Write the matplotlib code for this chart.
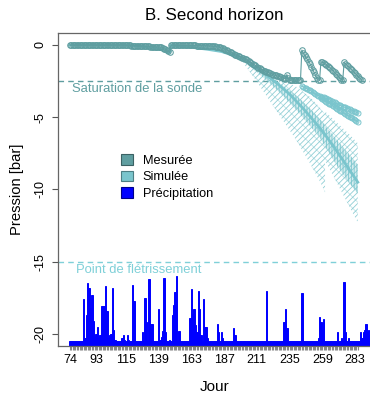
import numpy as np
import matplotlib
matplotlib.use('Agg')
import matplotlib.pyplot as plt
from matplotlib.patches import Patch

plt.rcParams['font.family'] = ['Liberation Sans', 'DejaVu Sans']
plt.rcParams['hatch.linewidth'] = 0.6

# --- Couleurs ---
c_mes = '#5F9EA0'
c_sim = '#7AC5CD'
c_fletr = '#7FD0D8'
c_pluie = '#0000FF'

# --- Precipitation (jour, mm) ---
jours = np.arange(74, 295)
pluie_jours = [84, 85, 86, 87, 88, 89, 90, 91, 92, 93, 94, 95, 96, 97, 98, 99, 100, 101, 102, 103, 104, 105, 106, 107,
               112, 113, 114, 116, 117, 120, 121, 127, 129, 130, 132, 133, 134, 139, 140, 141, 142, 143, 144, 147,
               149, 150, 151, 152, 154,
               162, 163, 164, 165, 166, 167, 168, 169, 170, 172, 173, 174, 175, 182, 183, 185, 186, 194, 195,
               218, 231, 232, 233, 244, 256, 257, 258, 259, 260, 270, 273, 275, 276, 278, 287, 288, 289, 290,
               291, 292, 293, 294]
pluie_mm = [29, 2, 18, 40, 37, 23, 32, 14, 3, 5, 10, 2, 4, 24, 24, 24, 38, 21, 2, 4, 5, 37, 8, 1,
            2, 4, 1, 4, 1, 39, 28, 6, 30, 13, 43, 12, 12, 22, 1, 3, 7, 44, 6, 1,
            18, 25, 34, 45, 7,
            16, 36, 19, 22, 11, 6, 35, 22, 4, 29, 10, 10, 2, 12, 6, 6, 2, 9, 4,
            35, 13, 22, 9, 33, 2, 17, 13, 8, 15, 6, 2, 41, 6, 2, 6, 2, 6, 8,
            12, 6, 8, 4]

# --- Pression mesuree (journaliere, a partir du jour 74) ---
mesure = ([0.0] * 41 +
          [-0.02, -0.02, -0.03, -0.03, -0.04, -0.04, -0.05, -0.05, -0.06, -0.06, -0.07, -0.07, -0.08, -0.08,
           -0.09, -0.09, -0.10, -0.10, -0.11, -0.11, -0.12, -0.12, -0.13, -0.13, -0.14, -0.14, -0.15] +
          [-0.20, -0.25, -0.31, -0.38, -0.45, -0.50] +
          [-0.02, -0.01, -0.01, -0.01, -0.01, -0.01, -0.01, -0.01, -0.02, -0.02, -0.02, -0.02, -0.02, -0.02,
           -0.03, -0.03, -0.03, -0.03, -0.03, -0.04, -0.04, -0.04, -0.04, -0.05, -0.05, -0.05, -0.05, -0.06, -0.06] +
          [-0.07, -0.08, -0.09, -0.10, -0.11, -0.12, -0.14, -0.17] +
          [-0.20, -0.24, -0.28, -0.32, -0.36, -0.41, -0.46, -0.51, -0.57] +
          [-0.62, -0.67, -0.71, -0.75, -0.79, -0.83, -0.87, -0.90] +
          [-0.95, -1.00, -1.06, -1.12, -1.18, -1.24, -1.30, -1.36, -1.42, -1.50] +
          [-1.56, -1.62, -1.67, -1.72, -1.77, -1.81, -1.85] +
          [-1.89, -1.93, -1.97, -2.01, -2.05, -2.08, -2.11, -2.14, -2.17, -2.20] +
          [-2.24, -2.28, -2.32, -2.36, -2.05, -2.30, -2.42] +
          [-2.42] * 8 +
          [-0.35, -0.55, -0.70, -0.85, -1.00, -1.15, -1.30, -1.50, -1.70, -1.90, -2.10, -2.30, -2.42, -2.42] +
          [-1.15, -1.20, -1.25, -1.30, -1.38, -1.45, -1.52, -1.60, -1.70, -1.80, -1.90, -2.00, -2.10, -2.20,
           -2.30, -2.40, -2.42] +
          [-1.20, -1.30, -1.40, -1.48, -1.56, -1.66, -1.76, -1.86, -1.96, -2.06, -2.16, -2.26, -2.35, -2.42])
mesure_jours = np.arange(74, 74 + len(mesure))

# --- Pression simulee ---
sim_jours = [74, 100, 115, 125, 135, 142, 147, 148, 155, 165, 175, 185, 195, 205, 215, 225, 235, 245, 255,
             261, 270, 280, 285]
sim_moy = [0.0, 0.0, -0.02, -0.08, -0.2, -0.35, -0.55, -0.02, -0.08, -0.18, -0.3, -0.45, -0.75, -1.2, -1.85,
           -2.6, -3.4, -4.4, -5.5, -6.2, -7.4, -8.8, -9.5]

r1_jours = [188, 195, 200, 210, 220, 230, 240, 250, 257, 261]
r1_sup = [-0.45, -0.6, -0.8, -1.3, -1.9, -2.4, -2.9, -3.6, -4.3, -4.8]
r1_inf = [-0.5, -0.8, -1.1, -2.4, -3.8, -5.2, -6.6, -8.2, -9.4, -10.2]
r1_dsup = [-0.45, -0.65, -0.9, -1.5, -2.1, -2.8, -3.5, -4.4, -5.1, -5.6]
r1_dinf = [-0.5, -0.75, -1.0, -1.8, -2.6, -3.5, -4.5, -5.6, -6.4, -7.0]

r2_jours = [261, 270, 280, 285]
r2_sup = [-4.6, -5.4, -6.3, -6.8]
r2_inf = [-8.0, -9.6, -11.4, -12.3]
r2_dsup = [-5.6, -6.6, -7.7, -8.3]
r2_dinf = [-7.0, -8.4, -9.7, -10.3]

bande1 = [-2.85, -2.9, -2.95, -3.0, -3.05, -3.1, -3.15, -3.2, -3.27, -3.33, -3.4, -3.45, -3.5, -3.55,
          -3.6, -3.6, -3.62, -3.65, -3.7, -3.74, -3.78, -3.83, -3.88, -3.93, -3.98, -4.03, -4.08, -4.13,
          -4.18, -4.23, -4.27, -4.3, -4.32, -4.36, -4.4, -4.45, -4.5, -4.54, -4.58, -4.62, -4.66, -4.7]
bande1_jours = np.arange(244, 244 + len(bande1))
bande2 = [-3.7, -3.76, -3.82, -3.88, -3.94, -4.0, -4.06, -4.12, -4.18, -4.24, -4.3, -4.36, -4.42, -4.48,
          -4.54, -4.6, -4.66, -4.72, -4.78, -4.84, -4.9, -4.96, -5.02, -5.08, -5.14, -5.2, -5.25, -5.3]
bande2_jours = np.arange(258, 258 + len(bande2))

x_labels = [74, 93, 115, 139, 163, 187, 211, 235, 259, 283]

# --- Figure ---
fig = plt.figure(figsize=(3.70, 3.93), dpi=100)
ax = fig.add_axes([58 / 370, 47 / 393, 313 / 370, 313 / 393])

# precipitation
pluie = np.zeros(len(jours))
for d, v in zip(pluie_jours, pluie_mm):
    pluie[d - 74] = v
base = -21.0
ax.bar(jours, -20.5 + pluie * 0.1 - base, bottom=base, width=1.0, color=c_pluie,
       edgecolor=c_pluie, linewidth=0.7, zorder=1)

# simulated envelopes (hatched)
for j, s, i in [(r1_jours, r1_sup, r1_inf), (r2_jours, r2_sup, r2_inf)]:
    ax.fill_between(j, s, i, facecolor='none', edgecolor=c_sim, hatch='//////', linewidth=0, zorder=2, alpha=0.85)
    ax.fill_between(j, s, i, facecolor='none', edgecolor=c_sim, hatch='\\\\\\', linewidth=0, zorder=2, alpha=0.45)
for j, s, i in [(r1_jours, r1_dsup, r1_dinf), (r2_jours, r2_dsup, r2_dinf)]:
    ax.fill_between(j, s, i, facecolor=c_sim, alpha=0.3, linewidth=0, zorder=2)
    ax.fill_between(j, s, i, facecolor='none', edgecolor=c_sim, hatch='||||||', linewidth=0, zorder=2)

ax.plot(sim_jours, sim_moy, color=c_sim, lw=2.0, zorder=3)
ax.plot(bande1_jours, bande1, color=c_sim, lw=0.8, marker='o', ms=3.6, mfc='none', mew=0.7, zorder=3)
ax.plot(bande2_jours, bande2, color=c_sim, lw=0.8, marker='o', ms=3.6, mfc='none', mew=0.7, zorder=3)

# measured
ax.plot(mesure_jours, mesure, color=c_mes, lw=0.8, marker='o', ms=4.0, mfc='none', mew=0.75, zorder=4)

# reference lines
ax.axhline(-2.5, color=c_mes, lw=1, linestyle=(0, (4, 3)), zorder=1)
ax.axhline(-15, color=c_fletr, lw=1, linestyle=(0, (4, 3)), zorder=1)
ax.text(75.5, -3.05, 'Saturation de la sonde', color=c_mes, fontsize=9.4, ha='left', va='center')
ax.text(78.4, -15.6, 'Point de flétrissement', color=c_fletr, fontsize=9.4, ha='left', va='center')

ax.set_xlim(65.2, 294.7)
ax.set_ylim(-20.84, 0.83)

ax.set_xticks(range(74, 286))
ax.set_xticklabels([str(d) if d in x_labels else '' for d in range(74, 286)], fontsize=9)
ax.tick_params(axis='x', length=3, width=0.8, color='#888888', pad=3)
ax.set_yticks([0, -5, -10, -15, -20])
ax.set_yticklabels(['0', '-5', '-10', '-15', '-20'], rotation=90, va='center', fontsize=9)
ax.tick_params(axis='y', length=4, width=0.8, color='#555555', pad=4)
for sp in ax.spines.values():
    sp.set_color('#666666')
    sp.set_linewidth(0.9)

ax.set_xlabel('Jour', fontsize=11, labelpad=10)
ax.set_ylabel('Pression [bar]', fontsize=10.7, labelpad=8)
fig.text(214 / 370, 1 - 16 / 393, 'B. Second horizon', fontsize=12.2, ha='center', va='center')

handles = [Patch(facecolor=c_mes, edgecolor='#3b6163', lw=0.8),
           Patch(facecolor=c_sim, edgecolor='#4d7f84', lw=0.8),
           Patch(facecolor=c_pluie, edgecolor='#00008b', lw=0.8)]
fig.legend(handles, ['Mesurée', 'Simulée', 'Précipitation'], loc='upper left',
           bbox_to_anchor=(121 / 370, 1 - 154 / 393), frameon=False, fontsize=9.2,
           handlelength=0.9, handleheight=0.9, handletextpad=0.8, labelspacing=0.3,
           borderpad=0, borderaxespad=0)

fig.savefig('out.png', dpi=100)
